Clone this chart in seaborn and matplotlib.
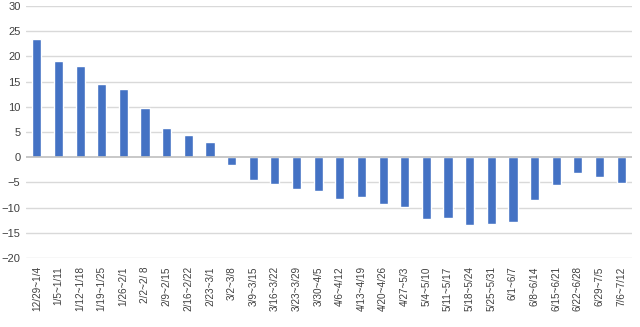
import matplotlib
matplotlib.use("Agg")
import matplotlib.pyplot as plt
import seaborn as sns
import pandas as pd

weeks = ["12/29~1/4", "1/5~1/11", "1/12~1/18", "1/19~1/25", "1/26~2/1", "2/2~2/ 8",
         "2/9~2/15", "2/16~2/22", "2/23~3/1", "3/2~3/8", "3/9~3/15", "3/16~3/22",
         "3/23~3/29", "3/30~4/5", "4/6~4/12", "4/13~4/19", "4/20~4/26", "4/27~5/3",
         "5/4~5/10", "5/11~5/17", "5/18~5/24", "5/25~5/31", "6/1~6/7", "6/8~6/14",
         "6/15~6/21", "6/22~6/28", "6/29~7/5", "7/6~7/12"]
values = [23.5, 19.0, 18.0, 14.6, 13.6, 9.7, 5.8, 4.4, 3.0, -1.5, -4.6, -5.3,
          -6.4, -6.8, -8.2, -7.9, -9.2, -9.9, -12.2, -12.0, -13.4, -13.3, -12.8, -8.5,
          -5.5, -3.2, -4.0, -5.2]
yticks = [-20, -15, -10, -5, 0, 5, 10, 15, 20, 25, 30]

df = pd.DataFrame({"week": weeks, "value": values})

sns.set_style("white")
plt.rcParams['font.family'] = ['Liberation Sans', 'DejaVu Sans']

fig = plt.figure(figsize=(6.4, 3.27), dpi=100)
ax = fig.add_axes([26/640, 1 - 258/327, 606/640, 252/327])

for t in yticks:
    if t != 0:
        ax.axhline(t, color="#d9d9d9", lw=1, zorder=0)
ax.axhline(0, color="#bfbfbf", lw=1.2, zorder=3)

sns.barplot(data=df, x="week", y="value", color="#4472C4", width=0.42,
            saturation=1, ax=ax, zorder=2)

ax.set_ylim(-20, 30)
ax.set_yticks(yticks)
ax.set_xlim(-0.5, len(weeks) - 0.5)
ax.set_xlabel("")
ax.set_ylabel("")
ax.tick_params(axis="y", labelsize=8, colors="#404040", length=0, pad=4)
ax.tick_params(axis="x", labelsize=7.2, colors="#404040", length=0, pad=6, rotation=90)
for s in ax.spines.values():
    s.set_visible(False)

fig.savefig("out.png", dpi=100)
